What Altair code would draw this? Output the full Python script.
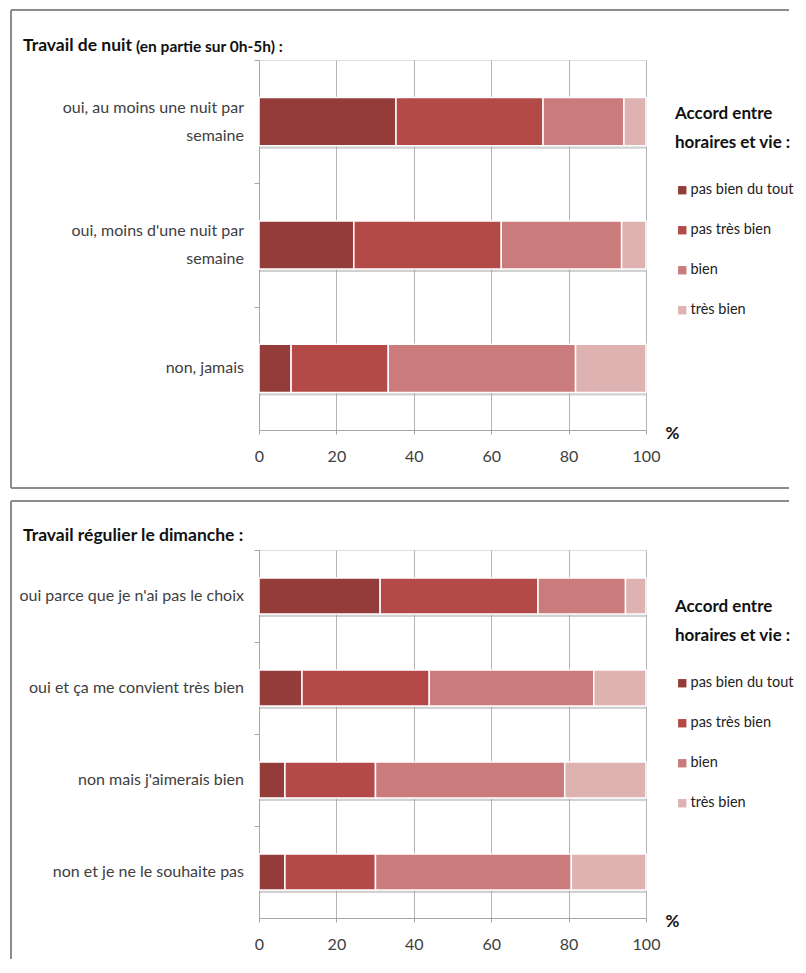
import altair as alt
import pandas as pd

# ---- data ----
levels = ["pas bien du tout", "pas très bien", "bien", "très bien"]
colors = ["#943c3a", "#b34a47", "#c97c7b", "#dfb2b2"]

night_cats = ["oui, au moins une nuit par semaine",
              "oui, moins d'une nuit par semaine",
              "non, jamais"]
night_lines = [["oui, au moins une nuit par", "semaine"],
               ["oui, moins d'une nuit par", "semaine"],
               ["non, jamais"]]
night_pas_bien_du_tout = [35.4, 24.5, 8.3]
night_pas_tres_bien = [38.0, 38.1, 25.1]
night_bien = [20.9, 31.1, 48.4]
night_tres_bien = [5.7, 6.3, 18.2]

sun_cats = ["oui parce que je n'ai pas le choix",
            "oui et ça me convient très bien",
            "non mais j'aimerais bien",
            "non et je ne le souhaite pas"]
sun_lines = [[c] for c in sun_cats]
sun_pas_bien_du_tout = [31.3, 11.1, 6.7, 6.7]
sun_pas_tres_bien = [40.8, 32.9, 23.4, 23.4]
sun_bien = [22.6, 42.5, 48.9, 50.6]
sun_tres_bien = [5.3, 13.5, 21.0, 19.3]

x_ticks = [0, 20, 40, 60, 80, 100]

FONT = "Lato"
TXT = "#404040"
BORDER = "#8c8c8c"
AXC = "#a6a6a6"


def long_df(cats, series):
    rows = []
    for ci, c in enumerate(cats):
        for li, (lvl, vals) in enumerate(zip(levels, series)):
            rows.append({"cat": c, "level": lvl, "idx": li, "value": vals[ci]})
    return pd.DataFrame(rows)


def label_df(cats, lines):
    rows = []
    for c, ls in zip(cats, lines):
        n = len(ls)
        for i, t in enumerate(ls):
            pos = "single" if n == 1 else ("first" if i == 0 else "second")
            rows.append({"cat": c, "text": t, "pos": pos})
    return pd.DataFrame(rows)


def panel(df, cats, lines, height, title_main, title_note, box_top, box_bottom,
          legend_y, draw_bottom):
    step = height / len(cats)
    yscale = alt.Scale(paddingInner=0.61, paddingOuter=0.305)
    y_enc = alt.Y("cat:N", sort=cats, title=None, scale=yscale,
                  axis=alt.Axis(labels=False, tickOffset=-step / 2,
                                tickSize=5, tickColor=AXC,
                                domainColor=AXC, grid=False,
                                minExtent=247, maxExtent=247))
    x_enc = alt.X("sum(value):Q", title="%",
                  scale=alt.Scale(domain=[0, 100], nice=False),
                  stack="zero",
                  axis=alt.Axis(values=x_ticks, labelFont=FONT, labelFontSize=16,
                                labelColor=TXT, labelPadding=14, labelFlush=False,
                                tickSize=4, tickColor=AXC, domainColor=AXC,
                                grid=True, gridColor="#b5b5b5", gridWidth=1,
                                titleFont=FONT, titleFontSize=17, titleFontWeight="bold",
                                titleColor="#111111", titleX=413, titleY=3,
                                titleAlign="center", titleBaseline="middle"))
    base = alt.Chart(df)
    shadow = base.mark_bar(color="#9a9a9a", opacity=0.45, yOffset=3).encode(
        x=alt.X("sum(value):Q", scale=alt.Scale(domain=[0, 100], nice=False),
                title="%"),
        y=alt.Y("cat:N", sort=cats, title=None),
    )
    bars = base.mark_bar(stroke="white", strokeWidth=1.5).encode(
        x=x_enc,
        y=y_enc,
        color=alt.Color("level:N", sort=levels,
                        scale=alt.Scale(domain=levels, range=colors),
                        legend=alt.Legend(
                            title=["Accord entre", "horaires et vie :"],
                            orient="none", legendX=416, legendY=legend_y,
                            titleFont=FONT, titleFontSize=17, titleFontWeight="bold",
                            titleColor="#111111", titleLineHeight=29, titlePadding=31,
                            labelFont=FONT, labelFontSize=14.5, labelColor="#222222",
                            symbolType="square", symbolSize=70, symbolStrokeWidth=0,
                            rowPadding=25, labelOffset=1, padding=0)),
        order=alt.Order("idx:Q", sort="ascending"),
    )
    ldf = label_df(cats, lines)
    label_layers = []
    for pos, off in [("single", 0), ("first", -14), ("second", 14)]:
        if (ldf["pos"] == pos).any():
            label_layers.append(
                alt.Chart(ldf).transform_filter(alt.datum.pos == pos).mark_text(
                    align="right", baseline="middle", font=FONT, fontSize=16,
                    color=TXT, yOffset=off
                ).encode(x=alt.value(-15), y=alt.Y("cat:N", sort=cats, title=None),
                         text="text:N"))
    one = pd.DataFrame({"a": [0]})
    title_t = alt.Chart(one).mark_text(
        text=title_main, align="left", baseline="middle", font=FONT,
        fontSize=17.5, fontWeight="bold", color="#111111"
    ).encode(x=alt.value(-236), y=alt.value(-14))
    layers = [shadow, bars] + label_layers + [title_t]
    if title_note:
        note_t = alt.Chart(one).mark_text(
            text=title_note, align="left", baseline="middle", font=FONT,
            fontSize=15.5, fontWeight="bold", color="#111111"
        ).encode(x=alt.value(-123), y=alt.value(-13))
        layers.append(note_t)
    top_rule = alt.Chart(one).mark_rule(color=BORDER, strokeWidth=2).encode(
        x=alt.value(-248), x2=alt.value(530), y=alt.value(box_top))
    left_rule = alt.Chart(one).mark_rule(color=BORDER, strokeWidth=2).encode(
        x=alt.value(-248), y=alt.value(box_top), y2=alt.value(box_bottom))
    layers += [top_rule, left_rule]
    if draw_bottom:
        bottom_rule = alt.Chart(one).mark_rule(color=BORDER, strokeWidth=2).encode(
            x=alt.value(-248), x2=alt.value(530), y=alt.value(box_bottom))
        layers.append(bottom_rule)
    return alt.layer(*layers).properties(width=387, height=height)


night_df = long_df(night_cats, [night_pas_bien_du_tout, night_pas_tres_bien,
                                night_bien, night_tres_bien])
sun_df = long_df(sun_cats, [sun_pas_bien_du_tout, sun_pas_tres_bien,
                            sun_bien, sun_tres_bien])

top = panel(night_df, night_cats, night_lines, 370, "Travail de nuit",
            "(en partie sur 0h-5h) :", -50, 428, 46, True)
bottom = panel(sun_df, sun_cats, sun_lines, 368, "Travail régulier le dimanche :",
               None, -49, 409, 49, False)

chart = alt.vconcat(top, bottom, spacing=9).resolve_legend(
    color="independent").resolve_scale(y="independent").properties(
    padding={"left": 1, "top": 0, "right": 0, "bottom": 0}
).configure_view(stroke=None).configure(font=FONT)

chart.save("out.html", embed_options={"renderer": "svg", "actions": False})
